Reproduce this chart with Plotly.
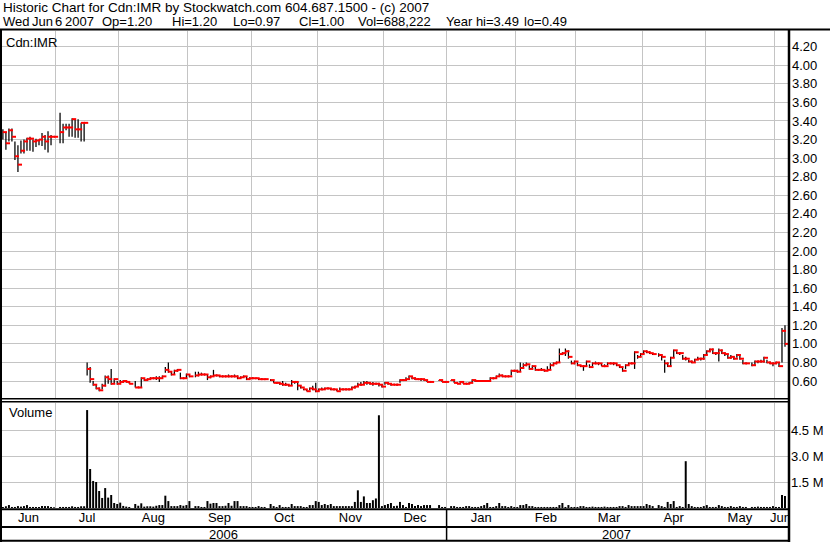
import pandas as pd
import plotly.graph_objects as go

W, H = 830, 543

# ---------------- data ----------------
# one slot per weekday, 7 Jun 2006 .. 6 Jun 2007 (holidays are empty slots)
trade_days = pd.bdate_range("2006-06-07", "2007-06-06")

high = [
    3.31, 3.27, 3.32, 3.32, 3.18, 3.14, 3.19, 3.20, 3.22, 3.23, 3.20, 3.21, 3.20, 3.27, 3.25, 3.29, 3.25, 3.23, None,
    3.49, 3.37, 3.37, 3.37, 3.43, 3.42, 3.42, 3.38, 3.38,
    0.80, 0.75, 0.60, 0.56, 0.53, 0.57, 0.66, 0.66, 0.73, 0.63, 0.60, 0.61, 0.61, 0.61, 0.59, None,
    0.60, 0.54, 0.64, 0.63, 0.63, 0.64, 0.64, 0.65, 0.65, 0.66, 0.75, 0.80, 0.70, 0.72, 0.73, 0.69, 0.64, 0.68, 0.67, None,
    0.70, 0.70, 0.69, 0.68, 0.67, 0.66, 0.72, 0.67, 0.66, 0.66, 0.66, 0.67, 0.66, 0.67, 0.66, 0.65, 0.66, 0.65, 0.64, 0.64,
    0.63, 0.63, 0.63, 0.62, None,
    0.62, 0.60, 0.59, 0.58, 0.60, 0.58, 0.56, 0.61, 0.60, 0.59, 0.55, 0.52, 0.51, 0.53, 0.55, 0.58, 0.52, 0.53, 0.53, 0.53,
    0.52, 0.52, 0.51, 0.53, 0.52, 0.52, 0.52, 0.54, 0.55, 0.58, 0.59, 0.60, 0.60, 0.59, 0.59, 0.58, 0.58, 0.56, 0.59, 0.58,
    0.57, 0.57, 0.57, 0.62, 0.62, 0.64, 0.66, 0.65, 0.64, 0.63, 0.63, 0.62, 0.61, 0.60, None, None, 0.61, 0.60, 0.60, None,
    0.61, 0.60, 0.59, 0.60, 0.59, 0.58, 0.59, 0.62, 0.61, 0.61, 0.61, 0.61, 0.61, 0.64, 0.64, 0.66, 0.68, 0.67, 0.66, 0.66,
    0.72, 0.72, 0.72, 0.80, 0.79, 0.80, 0.77, 0.77,
    0.75, 0.73, 0.74, 0.72, 0.76, 0.79, 0.80, 0.81, 0.95, 0.91, 0.95, 0.93, 0.82, 0.82, 0.80, 0.77, 0.77, 0.82, 0.78, 0.80,
    0.81, 0.80, 0.79, 0.78, 0.80, 0.80, 0.80, 0.79, 0.77, 0.74, 0.78, 0.80, 0.80, 0.92, 0.88, 0.90, 0.93, 0.93, 0.92, 0.90,
    None, 0.90, 0.89, 0.83, 0.80, 0.86, 0.94, 0.92, 0.91, 0.88, 0.86, 0.83, 0.82, 0.84, 0.86, 0.85, 0.89, 0.93, 0.95, 0.95,
    0.91, 0.95, 0.94, 0.91, 0.89, 0.88, 0.86, 0.89, 0.87, 0.83, 0.80, None, 0.80, 0.82, 0.82, 0.83, 0.86, 0.83, 0.81, 0.80,
    0.81, 0.80, 1.17, 1.20,
]
low = [
    3.20, 3.09, 3.18, 3.18, 2.98, 2.85, 3.05, 3.05, 3.08, 3.08, 3.07, 3.12, 3.14, 3.13, 3.09, 3.06, 3.14, 3.23, None,
    3.16, 3.16, 3.30, 3.23, 3.23, 3.22, 3.22, 3.18, 3.18,
    0.66, 0.58, 0.55, 0.51, 0.49, 0.51, 0.54, 0.57, 0.56, 0.57, 0.56, 0.57, 0.58, 0.58, 0.57, None,
    0.53, 0.53, 0.53, 0.60, 0.60, 0.61, 0.62, 0.61, 0.59, 0.63, 0.69, 0.69, 0.66, 0.67, 0.70, 0.62, 0.62, 0.63, 0.64, None,
    0.64, 0.65, 0.66, 0.66, 0.61, 0.63, 0.65, 0.65, 0.64, 0.64, 0.64, 0.64, 0.64, 0.64, 0.62, 0.63, 0.64, 0.61, 0.62, 0.62,
    0.62, 0.61, 0.61, 0.61, None,
    0.60, 0.58, 0.57, 0.56, 0.55, 0.55, 0.54, 0.55, 0.57, 0.50, 0.52, 0.50, 0.49, 0.50, 0.50, 0.48, 0.49, 0.50, 0.51, 0.51,
    0.50, 0.50, 0.49, 0.50, 0.50, 0.50, 0.50, 0.51, 0.52, 0.54, 0.55, 0.56, 0.56, 0.56, 0.55, 0.56, 0.54, 0.53, 0.56, 0.56,
    0.55, 0.56, 0.55, 0.58, 0.60, 0.61, 0.62, 0.62, 0.61, 0.61, 0.60, 0.60, 0.59, 0.59, None, None, 0.60, 0.59, 0.58, None,
    0.60, 0.58, 0.57, 0.58, 0.57, 0.57, 0.57, 0.59, 0.59, 0.59, 0.59, 0.59, 0.59, 0.61, 0.62, 0.63, 0.65, 0.64, 0.64, 0.64,
    0.66, 0.70, 0.69, 0.70, 0.74, 0.76, 0.72, 0.73,
    0.71, 0.71, 0.71, 0.70, 0.71, 0.72, 0.76, 0.78, 0.80, 0.88, 0.87, 0.84, 0.78, 0.78, 0.76, 0.75, 0.71, 0.76, 0.74, 0.76,
    0.78, 0.77, 0.76, 0.75, 0.77, 0.78, 0.77, 0.76, 0.74, 0.70, 0.73, 0.77, 0.78, 0.73, 0.84, 0.86, 0.89, 0.90, 0.89, 0.88,
    None, 0.86, 0.82, 0.69, 0.75, 0.76, 0.85, 0.89, 0.88, 0.83, 0.82, 0.80, 0.79, 0.80, 0.83, 0.82, 0.83, 0.88, 0.91, 0.89,
    0.88, 0.81, 0.89, 0.87, 0.84, 0.84, 0.83, 0.85, 0.83, 0.78, 0.78, None, 0.76, 0.77, 0.79, 0.80, 0.80, 0.79, 0.78, 0.76,
    0.78, 0.75, 0.80, 0.97,
]
close = [
    3.28, 3.16, 3.30, 3.23, 3.02, 2.93, 3.08, 3.18, 3.21, 3.21, 3.18, 3.19, 3.20, 3.23, 3.18, 3.23, 3.23, 3.23, None,
    3.28, 3.33, 3.33, 3.33, 3.42, 3.31, 3.31, 3.38, 3.38,
    0.73, 0.62, 0.56, 0.52, 0.50, 0.55, 0.64, 0.62, 0.57, 0.62, 0.57, 0.59, 0.60, 0.59, 0.57, None,
    0.53, 0.53, 0.63, 0.61, 0.62, 0.63, 0.63, 0.63, 0.63, 0.65, 0.72, 0.70, 0.67, 0.71, 0.72, 0.63, 0.63, 0.67, 0.65, None,
    0.66, 0.67, 0.67, 0.67, 0.64, 0.65, 0.66, 0.66, 0.65, 0.65, 0.65, 0.65, 0.65, 0.65, 0.63, 0.64, 0.65, 0.62, 0.63, 0.63,
    0.63, 0.62, 0.62, 0.62, None,
    0.61, 0.58, 0.58, 0.57, 0.56, 0.56, 0.55, 0.59, 0.59, 0.55, 0.53, 0.51, 0.49, 0.52, 0.51, 0.49, 0.51, 0.51, 0.52, 0.52,
    0.51, 0.51, 0.49, 0.51, 0.51, 0.51, 0.51, 0.53, 0.54, 0.56, 0.56, 0.58, 0.58, 0.57, 0.57, 0.57, 0.56, 0.54, 0.58, 0.57,
    0.56, 0.56, 0.56, 0.61, 0.61, 0.62, 0.65, 0.63, 0.62, 0.62, 0.62, 0.61, 0.59, 0.59, None, None, 0.61, 0.59, 0.59, None,
    0.61, 0.58, 0.57, 0.59, 0.57, 0.57, 0.58, 0.61, 0.60, 0.60, 0.60, 0.60, 0.60, 0.63, 0.63, 0.65, 0.66, 0.65, 0.65, 0.65,
    0.71, 0.71, 0.70, 0.74, 0.77, 0.78, 0.73, 0.76,
    0.72, 0.72, 0.72, 0.71, 0.72, 0.77, 0.79, 0.80, 0.89, 0.90, 0.92, 0.86, 0.79, 0.81, 0.77, 0.76, 0.76, 0.81, 0.75, 0.79,
    0.79, 0.79, 0.76, 0.76, 0.79, 0.79, 0.79, 0.77, 0.75, 0.71, 0.77, 0.79, 0.79, 0.91, 0.86, 0.89, 0.92, 0.91, 0.90, 0.89,
    None, 0.88, 0.86, 0.79, 0.76, 0.85, 0.93, 0.90, 0.90, 0.84, 0.84, 0.81, 0.80, 0.83, 0.84, 0.84, 0.88, 0.92, 0.94, 0.90,
    0.90, 0.93, 0.90, 0.89, 0.85, 0.86, 0.84, 0.88, 0.84, 0.79, 0.79, None, 0.77, 0.81, 0.81, 0.81, 0.85, 0.80, 0.79, 0.79,
    0.80, 0.76, 1.14, 1.00,
]
volume_m = [
    0.06, 0.10, 0.17, 0.06, 0.06, 0.11, 0.08, 0.11, 0.17, 0.06, 0.06, 0.06, 0.06, 0.11, 0.11, 0.11, 0.06, 0.04, None,
    0.06, 0.06, 0.06, 0.06, 0.10, 0.06, 0.06, 0.10, 0.10,
    5.65, 2.25, 1.56, 1.50, 0.98, 0.58, 1.15, 0.60, 0.75, 0.29, 0.23, 0.31, 0.12, 0.08, 0.06, None,
    0.23, 0.13, 0.27, 0.08, 0.10, 0.10, 0.08, 0.13, 0.17, 0.17, 0.71, 0.40, 0.11, 0.11, 0.11, 0.17, 0.13, 0.17, 0.40, None,
    0.11, 0.11, 0.06, 0.06, 0.40, 0.25, 0.29, 0.29, 0.11, 0.11, 0.13, 0.29, 0.13, 0.40, 0.40, 0.11, 0.11, 0.11, 0.06, 0.06,
    0.06, 0.11, 0.06, 0.06, None,
    0.23, 0.11, 0.06, 0.17, 0.06, 0.06, 0.06, 0.23, 0.11, 0.11, 0.11, 0.06, 0.06, 0.17, 0.17, 0.40, 0.35, 0.17, 0.23, 0.17,
    0.23, 0.11, 0.11, 0.11, 0.11, 0.11, 0.11, 0.11, 0.35, 1.02, 0.35, 0.67, 0.29, 0.29, 0.45, 0.55, 5.35, 0.11, 0.17, 0.23,
    0.29, 0.11, 0.13, 0.35, 0.17, 0.06, 0.29, 0.23, 0.11, 0.17, 0.11, 0.17, 0.17, 0.17, None, None, 0.17, 0.06, 0.06, None,
    0.11, 0.11, 0.06, 0.06, 0.06, 0.11, 0.11, 0.06, 0.06, 0.06, 0.11, 0.17, 0.29, 0.06, 0.06, 0.11, 0.29, 0.11, 0.11, 0.06,
    0.11, 0.06, 0.06, 0.17, 0.17, 0.23, 0.11, 0.11,
    0.06, 0.06, 0.06, 0.06, 0.06, 0.06, 0.06, 0.06, 0.17, 0.29, 0.06, 0.17, 0.06, 0.06, 0.06, 0.11, 0.11, 0.06, 0.06, 0.08,
    0.06, 0.06, 0.06, 0.08, 0.06, 0.06, 0.06, 0.06, 0.11, 0.11, 0.06, 0.17, 0.11, 0.11, 0.11, 0.11, 0.11, 0.23, 0.17, 0.11,
    None, 0.17, 0.11, 0.06, 0.35, 0.23, 0.40, 0.06, 0.11, 0.06, 2.70, 0.23, 0.11, 0.06, 0.06, 0.06, 0.11, 0.17, 0.06, 0.06,
    0.06, 0.17, 0.11, 0.06, 0.06, 0.11, 0.06, 0.06, 0.11, 0.06, 0.06, None, 0.06, 0.06, 0.08, 0.06, 0.06, 0.06, 0.06, 0.11,
    0.06, 0.06, 0.75, 0.69,
]

price_ticks = [0.60, 0.80, 1.00, 1.20, 1.40, 1.60, 1.80, 2.00, 2.20, 2.40,
               2.60, 2.80, 3.00, 3.20, 3.40, 3.60, 3.80, 4.00, 4.20]
volume_ticks = [1.5, 3.0, 4.5]
volume_tick_text = ["1.5 M", "3.0 M", "4.5 M"]

header_title = "Historic Chart for Cdn:IMR by Stockwatch.com 604.687.1500 - (c) 2007"
header_fields = ["Wed", "Jun", "6", "2007", "Op=1.20", "Hi=1.20", "Lo=0.97",
                 "Cl=1.00", "Vol=688,222", "Year hi=3.49", "lo=0.49"]
symbol_label = "Cdn:IMR"
volume_label = "Volume"

n = len(trade_days)
assert len(high) == len(low) == len(close) == len(volume_m) == n

# ---------------- helpers ----------------
def px(x):
    return x / W

def py(y):
    return 1 - y / H

idx = list(range(n))

# month / year groupings from the trading-day slots
month_keys = [(d.year, d.month) for d in trade_days]
month_first, month_last, month_name = {}, {}, {}
for i, (k, d) in enumerate(zip(month_keys, trade_days)):
    month_first.setdefault(k, i)
    month_last[k] = i
    month_name[k] = d.strftime("%b")
months = list(month_first.keys())
grid_vals = [month_first[k] - 0.5 for k in months if month_first[k] > 0]
label_vals = [(month_first[k] + month_last[k]) / 2 for k in months]
label_text = [month_name[k] for k in months]

year_first, year_last = {}, {}
for i, d in enumerate(trade_days):
    year_first.setdefault(d.year, i)
    year_last[d.year] = i
years = list(year_first.keys())

# ---------------- traces ----------------
hl_x = [i for i in idx if high[i] is not None]
hl_base = [low[i] for i in hl_x]
hl_len = [high[i] - low[i] for i in hl_x]

cl_x = [i + 0.66 for i in idx if close[i] is not None]
cl_y = [close[i] for i in idx if close[i] is not None]

vol_x = [i for i in idx if volume_m[i] is not None]
vol_y = [volume_m[i] for i in vol_x]

FONT = "Liberation Sans"
GRID = "#c4c4c4"

fig = go.Figure()
fig.add_trace(go.Bar(x=hl_x, y=hl_len, base=hl_base, width=0.42,
                     marker=dict(color="black", line=dict(width=0)),
                     xaxis="x", yaxis="y", hoverinfo="skip", showlegend=False))
fig.add_trace(go.Scatter(x=cl_x, y=cl_y, mode="markers",
                         marker=dict(symbol="line-ew", size=3, color="red",
                                     line=dict(width=2, color="#ff0000")),
                         xaxis="x", yaxis="y", hoverinfo="skip", showlegend=False))
fig.add_trace(go.Bar(x=vol_x, y=vol_y, width=0.66,
                     marker=dict(color="black", line=dict(width=0)),
                     xaxis="x2", yaxis="y2", hoverinfo="skip", showlegend=False))

x_range = [-0.3, n - 0.0]
price_range = [0.6 - 17 / 92.86, 0.6 + 350 / 92.86]
vol_range = [0, 105 / 26 * 1.5]

fig.update_layout(
    template="none",
    width=W, height=H,
    margin=dict(l=0, r=0, t=0, b=0),
    paper_bgcolor="white", plot_bgcolor="white",
    font=dict(family=FONT, size=13, color="black"),
    showlegend=False,
    xaxis=dict(domain=[px(2), px(788)], range=x_range, anchor="y",
               tickmode="array", tickvals=grid_vals, showticklabels=False,
               showgrid=True, gridcolor=GRID, gridwidth=1, ticks="",
               zeroline=False, showline=False, automargin=False, fixedrange=True),
    yaxis=dict(domain=[py(398), py(31)], range=price_range, anchor="x", side="right",
               tickmode="array", tickvals=price_ticks,
               ticktext=[f"{v:.2f}" for v in price_ticks],
               showgrid=True, gridcolor=GRID, gridwidth=1, ticks="",
               ticklabelstandoff=3,
               zeroline=False, showline=False, automargin=False,
               tickfont=dict(family=FONT, size=13, color="black")),
    xaxis2=dict(domain=[px(2), px(788)], range=x_range, anchor="y2",
                tickmode="array", tickvals=label_vals, ticktext=label_text,
                showgrid=False, ticks="", zeroline=False, showline=False,
                automargin=False,
                tickfont=dict(family=FONT, size=13, color="black"),
                minor=dict(tickmode="array", tickvals=grid_vals, showgrid=True,
                           gridcolor=GRID, gridwidth=1, ticks="")),
    yaxis2=dict(domain=[py(508), py(403)], range=vol_range, anchor="x2", side="right",
                tickmode="array", tickvals=volume_ticks, ticktext=volume_tick_text,
                showgrid=True, gridcolor=GRID, gridwidth=1, ticks="",
                ticklabelstandoff=2,
                zeroline=False, showline=False, automargin=False,
                tickfont=dict(family=FONT, size=13, color="black")),
)

# ---------------- frame lines ----------------
def hline(y, x0, x1, w):
    return dict(type="line", xref="paper", yref="paper", x0=px(x0), x1=px(x1),
                y0=py(y), y1=py(y), line=dict(color="black", width=w), layer="above")

def vline(x, y0, y1, w):
    return dict(type="line", xref="paper", yref="paper", x0=px(x), x1=px(x),
                y0=py(y0), y1=py(y1), line=dict(color="black", width=w), layer="above")

shapes = [
    dict(type="rect", xref="paper", yref="paper", x0=px(790), x1=px(830),
         y0=py(526), y1=py(510), fillcolor="white", line=dict(width=0), layer="above"),
    hline(29.5, 0, 830, 2),
    vline(1, 29, 542, 2),
    vline(789, 29, 542, 2.5),
    hline(398.8, 0, 789, 1.5),
    hline(401.8, 0, 789, 1.5),
    hline(509.2, 0, 789, 2),
    hline(527, 0, 789, 2),
    hline(540.8, 0, 789, 2),
]
for yr in years[1:]:
    shapes.append(dict(type="line", xref="x2", yref="paper",
                       x0=year_first[yr] - 0.5, x1=year_first[yr] - 0.5,
                       y0=py(509), y1=py(541), line=dict(color="black", width=1.5),
                       layer="above"))
fig.update_layout(shapes=shapes)

# ---------------- text ----------------
ann = []
ann.append(dict(text=header_title, xref="paper", yref="paper", x=px(1), y=py(8),
                xanchor="left", yanchor="middle", showarrow=False,
                font=dict(family=FONT, size=13.5, color="black")))
field_x = [1, 30, 53, 63, 100, 170, 231, 297, 356, 444, 522]
for t, xx in zip(header_fields, field_x):
    ann.append(dict(text=t, xref="paper", yref="paper", x=px(xx), y=py(21.5),
                    xanchor="left", yanchor="middle", showarrow=False,
                    font=dict(family=FONT, size=13, color="black")))
ann.append(dict(text=symbol_label, xref="paper", yref="paper", x=px(4), y=py(42),
                xanchor="left", yanchor="middle", showarrow=False,
                font=dict(family=FONT, size=13, color="black")))
ann.append(dict(text=volume_label, xref="paper", yref="paper", x=px(7), y=py(413),
                xanchor="left", yanchor="middle", showarrow=False,
                font=dict(family=FONT, size=13, color="black")))
for yr in years:
    ann.append(dict(text=str(yr), xref="x2", yref="paper",
                    x=(year_first[yr] + year_last[yr]) / 2, y=py(534),
                    xanchor="center", yanchor="middle", showarrow=False,
                    font=dict(family=FONT, size=13, color="black")))
fig.update_layout(annotations=ann)

fig.write_html("out.html",
               config={"displayModeBar": False, "staticPlot": True},
               post_script="document.body.style.margin='0px';"
                           "document.body.style.overflow='hidden';")
